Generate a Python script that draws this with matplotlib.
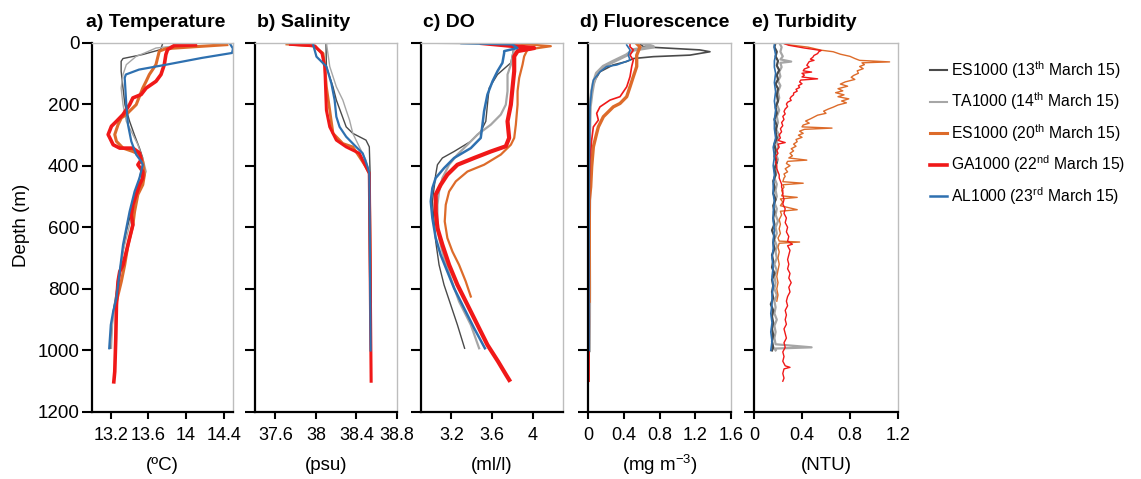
import matplotlib
matplotlib.use("Agg")
import matplotlib.pyplot as plt
from matplotlib.lines import Line2D

plt.rcParams['font.family'] = ['Liberation Sans', 'DejaVu Sans']
plt.rcParams['mathtext.fontset'] = 'custom'
plt.rcParams['mathtext.rm'] = 'Liberation Sans'
plt.rcParams['mathtext.it'] = 'Liberation Sans:italic'
plt.rcParams['mathtext.bf'] = 'Liberation Sans:bold'

# ---- series ----
names = [r'ES1000 (13$^{\mathrm{th}}$ March 15)', r'TA1000 (14$^{\mathrm{th}}$ March 15)',
         r'ES1000 (20$^{\mathrm{th}}$ March 15)', r'GA1000 (22$^{\mathrm{nd}}$ March 15)',
         r'AL1000 (23$^{\mathrm{rd}}$ March 15)']
colors = ['#4a4a4a', '#a6a6a6', '#dd6b2a', '#f01818', '#2e70b0']

# ---- a) temperature (depth m, degC) ----
temp_es13_d = [5, 23, 39, 52, 61, 93, 148, 202, 256, 299, 343, 375, 397, 440, 484, 549, 614, 679, 744, 809, 874, 939, 993]
temp_es13 = [13.75, 13.73, 13.54, 13.33, 13.31, 13.31, 13.33, 13.35, 13.40, 13.45, 13.505, 13.54, 13.54, 13.505, 13.47,
             13.418, 13.365, 13.33, 13.295, 13.26, 13.225, 13.207, 13.20]
temp_ta14_d = [1, 12, 18, 34, 45, 72, 104, 148, 202, 256, 299, 332, 364, 397, 419, 451, 494, 549, 614, 679, 765, 852, 917, 993]
temp_ta14 = [14.10, 13.86, 13.68, 13.56, 13.47, 13.365, 13.33, 13.31, 13.33, 13.365, 13.435, 13.488, 13.523, 13.558,
             13.576, 13.54, 13.488, 13.435, 13.383, 13.33, 13.277, 13.242, 13.218, 13.207]
temp_es20_d = [7, 15, 20, 28, 72, 104, 126, 148, 202, 223, 234, 245, 267, 299, 321, 343, 354, 364, 386, 429, 462, 494,
               549, 592, 657, 722, 776, 820, 841]
temp_es20 = [14.435, 14.03, 13.786, 13.716, 13.68, 13.61, 13.576, 13.54, 13.47, 13.40, 13.365, 13.312, 13.277, 13.242,
             13.26, 13.33, 13.435, 13.506, 13.54, 13.558, 13.54, 13.488, 13.453, 13.435, 13.383, 13.348, 13.312, 13.277, 13.26]
temp_ga22_d = [8, 10, 23, 39, 72, 104, 126, 148, 169, 180, 202, 218, 234, 256, 272, 299, 310, 332, 343, 343, 359, 381,
               397, 419, 440, 462, 494, 527, 560, 592, 635, 679, 722, 744, 776, 852, 961, 1069, 1102]
temp_ga22 = [14.10, 13.874, 13.804, 13.786, 13.769, 13.734, 13.681, 13.576, 13.523, 13.435, 13.40, 13.365, 13.33, 13.26,
             13.207, 13.172, 13.19, 13.225, 13.295, 13.435, 13.506, 13.523, 13.488, 13.54, 13.54, 13.506, 13.47, 13.435,
             13.418, 13.435, 13.40, 13.365, 13.33, 13.295, 13.277, 13.26, 13.253, 13.242, 13.232]
temp_al23_d = [5, 20, 34, 50, 72, 88, 104, 115, 202, 267, 321, 364, 386, 397, 440, 484, 549, 603, 657, 744, 830, 874, 917, 993]
temp_al23 = [14.47, 14.50, 14.49, 14.17, 13.79, 13.50, 13.36, 13.348, 13.365, 13.383, 13.418, 13.47, 13.523, 13.54,
             13.505, 13.453, 13.40, 13.365, 13.33, 13.295, 13.26, 13.225, 13.20, 13.183]

# ---- b) salinity (psu) ----
sal_es13_d = [0.5, 1, 3, 8, 78, 144, 187, 230, 274, 295, 317, 339, 425, 1000]
sal_es13 = [37.72, 38.36, 38.10, 38.10, 38.104, 38.169, 38.202, 38.25, 38.299, 38.364, 38.494, 38.527, 38.535, 38.545]
sal_ta14_d = [1, 78, 144, 187, 220, 252, 295, 339, 382, 425, 1000]
sal_ta14 = [38.104, 38.137, 38.202, 38.266, 38.299, 38.332, 38.364, 38.429, 38.494, 38.527, 38.54]
sal_es20_d = [5, 11, 35, 78, 144, 220, 295, 328, 339, 371, 404, 425, 840]
sal_es20 = [37.714, 37.974, 38.071, 38.088, 38.104, 38.137, 38.169, 38.266, 38.364, 38.429, 38.494, 38.527, 38.54]
sal_ga22_d = [6, 11, 35, 78, 220, 274, 317, 339, 360, 404, 425, 1100]
sal_ga22 = [37.75, 37.99, 38.06, 38.088, 38.104, 38.137, 38.202, 38.299, 38.429, 38.494, 38.527, 38.545]
sal_al23_d = [8, 46, 78, 133, 187, 241, 274, 306, 339, 360, 404, 425, 1000]
sal_al23 = [37.974, 38.006, 38.104, 38.153, 38.185, 38.202, 38.234, 38.299, 38.397, 38.462, 38.51, 38.527, 38.54]

# ---- c) dissolved oxygen (ml/l) ----
do_es13_d = [1, 4, 12, 66, 104, 148, 202, 256, 289, 321, 354, 375, 397, 429, 473, 516, 581, 646, 722, 787, 852, 917, 993]
do_es13 = [2.99, 3.80, 3.819, 3.786, 3.654, 3.572, 3.555, 3.539, 3.489, 3.391, 3.226, 3.111, 3.062, 3.045, 3.029, 3.012,
           3.029, 3.045, 3.078, 3.127, 3.193, 3.259, 3.33]
do_ta14_d = [1, 4, 18, 72, 104, 158, 202, 234, 267, 299, 332, 364, 397, 440, 484, 527, 570, 635, 700, 765, 841, 917, 993]
do_ta14 = [2.99, 3.78, 3.819, 3.786, 3.753, 3.753, 3.736, 3.687, 3.588, 3.457, 3.358, 3.259, 3.177, 3.111, 3.078, 3.062,
           3.062, 3.078, 3.127, 3.193, 3.275, 3.391, 3.473]
do_es20_d = [2, 12, 23, 45, 72, 115, 158, 202, 267, 310, 332, 364, 397, 419, 451, 484, 527, 581, 635, 679, 722, 776, 825]
do_es20 = [3.80, 4.18, 3.95, 3.917, 3.901, 3.868, 3.852, 3.852, 3.835, 3.819, 3.786, 3.687, 3.522, 3.358, 3.243,
           3.177, 3.144, 3.134, 3.16, 3.21, 3.275, 3.341, 3.391]
do_ga22_d = [2, 18, 28, 45, 93, 148, 202, 256, 310, 337, 354, 375, 397, 429, 462, 494, 549, 603, 657, 722, 787, 852,
             928, 982, 1036, 1080, 1096]
do_ga22 = [3.5, 4.016, 3.852, 3.819, 3.819, 3.802, 3.786, 3.753, 3.769, 3.736, 3.588, 3.424, 3.259, 3.16, 3.094,
           3.045, 3.045, 3.062, 3.111, 3.177, 3.259, 3.358, 3.473, 3.555, 3.66, 3.74, 3.77]
do_al23_d = [2, 6, 18, 28, 34, 66, 93, 126, 169, 223, 267, 310, 343, 375, 408, 440, 473, 516, 570, 635, 690, 744, 798,
             863, 928, 993]
do_al23 = [3.3, 3.80, 3.85, 3.72, 3.72, 3.703, 3.654, 3.605, 3.555, 3.522, 3.506, 3.489, 3.391, 3.226, 3.127, 3.045,
           3.012, 2.996, 3.012, 3.045, 3.094, 3.16, 3.226, 3.325, 3.424, 3.53]

# ---- d) fluorescence (mg m-3) ----
fl_es13_d = [3, 14, 24, 30, 41, 46, 52, 62, 73, 95, 122, 154, 198, 295, 420, 560, 700, 850, 1000]
fl_es13 = [0.58, 0.62, 1.25, 1.365, 1.14, 0.73, 0.51, 0.43, 0.28, 0.134, 0.078, 0.041, 0.022, 0.015, 0.02, 0.012, 0.018, 0.01, 0.012]
fl_ta14_d = [3, 14, 24, 41, 62, 78, 100, 133, 165, 209, 295, 450, 600, 800, 1000]
fl_ta14 = [0.62, 0.73, 0.51, 0.43, 0.28, 0.172, 0.097, 0.06, 0.041, 0.022, 0.015, 0.018, 0.012, 0.015, 0.012]
fl_es20_d = [5, 14, 41, 78, 111, 144, 176, 198, 209, 241, 274, 295, 339, 404, 469, 512, 650, 840]
fl_es20 = [0.55, 0.582, 0.545, 0.545, 0.507, 0.47, 0.433, 0.358, 0.283, 0.172, 0.116, 0.097, 0.06, 0.041, 0.03, 0.015, 0.014, 0.012]
fl_ga22_d = [5, 14, 24, 41, 57, 78, 111, 144, 176, 187, 209, 230, 252, 274, 317, 382, 458, 700, 900, 1100]
fl_ga22 = [0.47, 0.47, 0.507, 0.47, 0.507, 0.489, 0.47, 0.433, 0.358, 0.246, 0.134, 0.097, 0.116, 0.06, 0.041,
           0.022, 0.015, 0.012, 0.014, 0.012]
fl_al23_d = [8, 24, 41, 57, 73, 78, 95, 122, 154, 209, 400, 700, 1000]
fl_al23 = [0.433, 0.47, 0.451, 0.47, 0.321, 0.209, 0.134, 0.06, 0.041, 0.022, 0.015, 0.012, 0.012]

# ---- e) turbidity (NTU) ----
tu_es13_d = [0, 15, 30, 45, 60, 75, 90, 105, 120, 135, 150, 170, 190, 210, 230, 250, 270, 290, 310, 330, 350, 370,
             390, 410, 430, 450, 470, 490, 510, 530, 550, 570, 590, 610, 630, 650, 670, 690, 710, 730, 750, 770, 790,
             810, 830, 850, 870, 890, 910, 930, 950, 970, 990, 1000]
tu_es13 = [0.18, 0.17, 0.19, 0.18, 0.20, 0.19, 0.21, 0.19, 0.20, 0.18, 0.20, 0.19, 0.20, 0.18, 0.19, 0.17, 0.19, 0.18,
           0.19, 0.17, 0.18, 0.17, 0.19, 0.17, 0.18, 0.16, 0.17, 0.16, 0.18, 0.16, 0.17, 0.16, 0.17, 0.15, 0.17, 0.16,
           0.17, 0.15, 0.16, 0.15, 0.17, 0.15, 0.16, 0.15, 0.16, 0.14, 0.16, 0.15, 0.16, 0.15, 0.16, 0.15, 0.16, 0.15]
tu_ta14_d = [0, 15, 30, 45, 55, 62, 66, 80, 95, 110, 125, 140, 160, 180, 200, 220, 240, 260, 280, 300, 320, 340, 360,
             380, 400, 420, 440, 460, 480, 500, 520, 540, 560, 580, 600, 620, 640, 660, 680, 700, 720, 740, 760, 780,
             800, 820, 840, 860, 880, 900, 920, 940, 960, 980, 990, 994, 1000]
tu_ta14 = [0.21, 0.23, 0.22, 0.24, 0.22, 0.31, 0.22, 0.23, 0.21, 0.22, 0.20, 0.22, 0.20, 0.21, 0.19, 0.21, 0.19, 0.20,
           0.18, 0.21, 0.19, 0.20, 0.18, 0.20, 0.18, 0.19, 0.17, 0.19, 0.18, 0.19, 0.17, 0.19, 0.18, 0.20, 0.18, 0.19,
           0.17, 0.19, 0.18, 0.19, 0.17, 0.19, 0.17, 0.18, 0.17, 0.19, 0.17, 0.18, 0.17, 0.19, 0.17, 0.18, 0.17, 0.18,
           0.48, 0.17, 0.18]
tu_es20_d = [0, 8, 15, 25, 30, 38, 45, 52, 58, 63, 66, 72, 78, 85, 92, 100, 107, 113, 120, 128, 135, 142, 150, 157,
             163, 170, 176, 183, 190, 196, 203, 210, 216, 223, 230, 236, 242, 248, 255, 262, 268, 274, 278, 282, 288,
             295, 301, 308, 315, 322, 330, 337, 345, 352, 360, 368, 375, 382, 386, 393, 400, 410, 420, 427, 435, 440,
             452, 457, 462, 470, 480, 490, 498, 503, 508, 518, 530, 543, 548, 560, 575, 590, 605, 620, 635, 645, 648,
             652, 665, 680, 700, 720, 740, 760, 780, 800, 820, 840]
tu_es20 = [0.22, 0.30, 0.45, 0.56, 0.66, 0.72, 0.80, 0.84, 0.88, 1.13, 0.90, 0.92, 0.88, 0.91, 0.86, 0.87, 0.83, 0.81,
           0.84, 0.76, 0.72, 0.78, 0.70, 0.74, 0.68, 0.75, 0.70, 0.79, 0.73, 0.77, 0.70, 0.66, 0.62, 0.58, 0.60, 0.53,
           0.50, 0.47, 0.43, 0.46, 0.41, 0.40, 0.65, 0.42, 0.38, 0.41, 0.37, 0.40, 0.35, 0.36, 0.33, 0.35, 0.31, 0.33,
           0.30, 0.32, 0.29, 0.44, 0.28, 0.27, 0.30, 0.26, 0.28, 0.25, 0.26, 0.25, 0.24, 0.41, 0.24, 0.25, 0.23, 0.24,
           0.23, 0.36, 0.22, 0.24, 0.22, 0.36, 0.22, 0.23, 0.21, 0.22, 0.21, 0.22, 0.20, 0.21, 0.38, 0.21, 0.20, 0.21,
           0.20, 0.21, 0.20, 0.19, 0.20, 0.19, 0.20, 0.19]
tu_ga22_d = [0, 5, 9, 18, 26, 30, 36, 42, 48, 54, 58, 62, 68, 74, 80, 86, 92, 96, 100, 106, 112, 118, 122, 128, 134,
             140, 146, 152, 158, 164, 170, 176, 182, 188, 194, 200, 208, 216, 224, 232, 240, 250, 260, 270, 280, 290,
             300, 310, 318, 325, 330, 340, 350, 360, 370, 380, 390, 400, 410, 420, 430, 440, 450, 460, 470, 480, 495,
             510, 525, 540, 555, 570, 585, 600, 615, 630, 645, 655, 660, 675, 690, 705, 720, 735, 750, 765, 780, 795,
             810, 825, 840, 855, 870, 885, 900, 915, 930, 945, 960, 975, 990, 1005, 1020, 1035, 1050, 1055, 1060, 1075,
             1090, 1100]
tu_ga22 = [0.23, 0.26, 0.29, 0.42, 0.56, 0.54, 0.53, 0.50, 0.49, 0.47, 0.50, 0.46, 0.45, 0.44, 0.46, 0.42, 0.41, 0.48,
           0.40, 0.42, 0.40, 0.53, 0.39, 0.38, 0.40, 0.37, 0.38, 0.35, 0.36, 0.33, 0.33, 0.31, 0.30, 0.31, 0.28, 0.27,
           0.28, 0.26, 0.25, 0.26, 0.24, 0.25, 0.23, 0.24, 0.22, 0.23, 0.21, 0.22, 0.20, 0.26, 0.20, 0.21, 0.19, 0.20,
           0.18, 0.19, 0.18, 0.19, 0.19, 0.20, 0.21, 0.21, 0.22, 0.23, 0.23, 0.24, 0.24, 0.25, 0.24, 0.26, 0.25, 0.27,
           0.26, 0.28, 0.27, 0.29, 0.28, 0.32, 0.28, 0.30, 0.29, 0.28, 0.29, 0.28, 0.30, 0.29, 0.31, 0.29, 0.30, 0.28,
           0.27, 0.28, 0.26, 0.27, 0.26, 0.27, 0.25, 0.26, 0.27, 0.25, 0.26, 0.24, 0.25, 0.24, 0.26, 0.30, 0.25, 0.24,
           0.25, 0.24]
tu_al23_d = [0, 20, 40, 60, 80, 100, 130, 160, 190, 220, 250, 280, 310, 340, 370, 400, 430, 460, 490, 520, 550, 580,
             610, 640, 670, 700, 730, 760, 790, 820, 850, 880, 910, 940, 970, 1000]
tu_al23 = [0.17, 0.17, 0.18, 0.17, 0.17, 0.18, 0.17, 0.18, 0.17, 0.18, 0.17, 0.17, 0.18, 0.16, 0.17, 0.16, 0.17, 0.16,
           0.16, 0.17, 0.16, 0.16, 0.17, 0.16, 0.16, 0.15, 0.16, 0.15, 0.16, 0.15, 0.15, 0.14, 0.15, 0.14, 0.15, 0.14]

panels = [
    ('a) Temperature', '(ºC)', (13.0, 14.5), [13.2, 13.6, 14.0, 14.4], ['13.2', '13.6', '14', '14.4'],
     [(temp_es13_d, temp_es13), (temp_ta14_d, temp_ta14), (temp_es20_d, temp_es20), (temp_ga22_d, temp_ga22), (temp_al23_d, temp_al23)],
     [1.0, 1.0, 2.2, 2.6, 1.6]),
    ('b) Salinity', '(psu)', (37.4, 38.8), [37.6, 38.0, 38.4, 38.8], ['37.6', '38', '38.4', '38.8'],
     [(sal_es13_d, sal_es13), (sal_ta14_d, sal_ta14), (sal_es20_d, sal_es20), (sal_ga22_d, sal_ga22), (sal_al23_d, sal_al23)],
     [1.0, 1.0, 2.0, 2.2, 1.6]),
    ('c) DO', '(ml/l)', (2.9, 4.3), [3.2, 3.6, 4.0], ['3.2', '3.6', '4'],
     [(do_es13_d, do_es13), (do_ta14_d, do_ta14), (do_es20_d, do_es20), (do_ga22_d, do_ga22), (do_al23_d, do_al23)],
     [1.0, 1.6, 1.6, 3.0, 1.8]),
    ('d) Fluorescence', r'(mg m$^{-3}$)', (0, 1.6), [0, 0.4, 0.8, 1.2, 1.6], ['0', '0.4', '0.8', '1.2', '1.6'],
     [(fl_es13_d, fl_es13), (fl_ta14_d, fl_ta14), (fl_es20_d, fl_es20), (fl_ga22_d, fl_ga22), (fl_al23_d, fl_al23)],
     [1.2, 2.6, 2.4, 1.2, 1.2]),
    ('e) Turbidity', '(NTU)', (0, 1.2), [0, 0.4, 0.8, 1.2], ['0', '0.4', '0.8', '1.2'],
     [(tu_es13_d, tu_es13), (tu_ta14_d, tu_ta14), (tu_es20_d, tu_es20), (tu_ga22_d, tu_ga22), (tu_al23_d, tu_al23)],
     [1.6, 1.6, 1.0, 1.0, 1.2]),
]

W, H = 1141, 479
ax_left = [92, 255, 421, 588, 754]
ax_right = [233, 397, 563, 731, 898]
title_x = [86, 257, 423, 580, 752]
top_px, bot_px = 42.5, 412

fig = plt.figure(figsize=(W / 100, H / 100), dpi=100)
for i, (title, xlab, xlim, xt, xtl, series, lws) in enumerate(panels):
    ax = fig.add_axes([ax_left[i] / W, 1 - bot_px / H, (ax_right[i] - ax_left[i]) / W, (bot_px - top_px) / H])
    order = [1, 0, 2, 3, 4] if i == 4 else [0, 1, 2, 3, 4]
    for k in order:
        d, v = series[k]
        ax.plot(v, d, color=colors[k], lw=lws[k], solid_joinstyle='round')
    ax.set_xlim(*xlim)
    ax.set_ylim(1200, 0)
    ax.set_xticks(xt)
    ax.set_xticklabels(xtl)
    ax.set_yticks(range(0, 1201, 200))
    if i == 0:
        ax.tick_params(axis='y', labelsize=13.5, pad=2)
    else:
        ax.set_yticklabels([])
    ax.tick_params(axis='x', labelsize=13, direction='out', length=5, width=1.5, pad=6)
    ax.tick_params(axis='y', direction='out', length=7, width=1.5)
    for s in ['left', 'bottom']:
        ax.spines[s].set_color('black')
        ax.spines[s].set_linewidth(1.6)
    for s in ['top', 'right']:
        ax.spines[s].set_color('#bdbdbd')
        ax.spines[s].set_linewidth(1.0)
    fig.text(title_x[i] / W, 1 - 27 / H, title, fontsize=14, fontweight='bold', ha='left', va='baseline')
    fig.text((ax_left[i] + ax_right[i]) / 2 / W, 1 - 465 / H, xlab, fontsize=13.5, ha='center', va='center')

fig.text(22 / W, 1 - 225 / H, 'Depth (m)', fontsize=13.5, rotation=90, ha='center', va='center')

handles = [Line2D([], [], color=c, lw=lw) for c, lw in zip(colors, [1.5, 1.5, 2.2, 2.6, 1.8])]
fig.legend(handles, names, loc='upper left', bbox_to_anchor=(924 / W, 1 - 53 / H), frameon=False,
           fontsize=11.3, handlelength=1.05, handletextpad=0.3, labelspacing=0.62, borderaxespad=0)

fig.savefig('out.png', dpi=100, facecolor='white')
